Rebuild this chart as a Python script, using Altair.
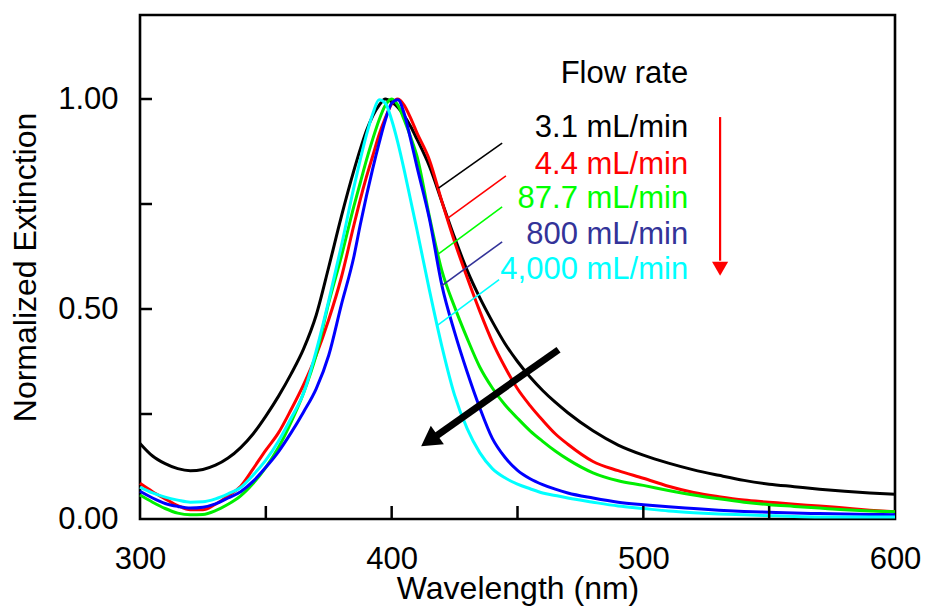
import altair as alt
import pandas as pd

# ---------------- data ----------------
wavelength = [300, 305, 310, 315, 320, 325, 330, 335, 340, 345, 350, 355, 360, 365, 370,
              375, 380, 385,
              387.5, 390, 392.5, 395, 397.5, 400, 402.5, 405, 407.5, 410,
              415, 420, 425, 430, 435, 440, 445, 450, 455, 460, 465, 470,
              480, 490, 500, 510, 520, 530, 540, 550, 560, 570, 580, 590, 600]

ext_3_1 = [0.180, 0.150, 0.132, 0.120, 0.115, 0.118, 0.128, 0.145, 0.170, 0.203, 0.245,
           0.292, 0.345, 0.405, 0.485, 0.600, 0.720, 0.830,
           0.880, 0.925, 0.960, 0.985, 1.000, 0.993, 0.980, 0.960, 0.935, 0.905,
           0.840, 0.755, 0.670, 0.592, 0.527, 0.470, 0.418, 0.375, 0.338, 0.306, 0.278, 0.253,
           0.210, 0.176, 0.152, 0.133, 0.117, 0.104, 0.092, 0.083, 0.077, 0.071, 0.066, 0.062, 0.059]

ext_4_4 = [0.085, 0.065, 0.048, 0.032, 0.022, 0.022, 0.035, 0.055, 0.078, 0.120, 0.164,
           0.205, 0.260, 0.320, 0.390, 0.475, 0.575, 0.700,
           0.760, 0.815, 0.865, 0.915, 0.955, 0.988, 1.000, 0.985, 0.955, 0.920,
           0.855, 0.755, 0.660, 0.575, 0.495, 0.422, 0.362, 0.310, 0.270, 0.235, 0.203, 0.178,
           0.137, 0.115, 0.097, 0.078, 0.063, 0.053, 0.045, 0.040, 0.035, 0.031, 0.026, 0.021, 0.017]

ext_87_7 = [0.057, 0.040, 0.025, 0.014, 0.010, 0.011, 0.020, 0.035, 0.055, 0.085, 0.123,
            0.170, 0.230, 0.300, 0.390, 0.515, 0.625, 0.745,
            0.800, 0.855, 0.905, 0.950, 0.985, 1.000, 0.985, 0.950, 0.910, 0.865,
            0.720, 0.590, 0.505, 0.430, 0.362, 0.312, 0.272, 0.240, 0.210, 0.185, 0.162, 0.142,
            0.110, 0.091, 0.080, 0.068, 0.057, 0.048, 0.040, 0.034, 0.030, 0.026, 0.022, 0.019, 0.017]

ext_800 = [0.066, 0.050, 0.037, 0.030, 0.026, 0.028, 0.036, 0.050, 0.065, 0.090, 0.123,
           0.160, 0.205, 0.255, 0.310, 0.390, 0.510, 0.625,
           0.700, 0.770, 0.835, 0.895, 0.950, 0.990, 0.998, 0.965, 0.905, 0.840,
           0.715, 0.555, 0.445, 0.350, 0.265, 0.192, 0.147, 0.116, 0.096, 0.082, 0.071, 0.062,
           0.050, 0.040, 0.034, 0.029, 0.025, 0.021, 0.018, 0.016, 0.014, 0.013, 0.012, 0.011, 0.010]

ext_4000 = [0.076, 0.062, 0.052, 0.045, 0.040, 0.041, 0.048, 0.060, 0.075, 0.105, 0.140,
            0.185, 0.240, 0.300, 0.400, 0.520, 0.650, 0.790,
            0.855, 0.915, 0.965, 0.998, 0.990, 0.950, 0.895, 0.830, 0.760, 0.690,
            0.545, 0.410, 0.295, 0.215, 0.158, 0.120, 0.098, 0.083, 0.072, 0.062, 0.056, 0.050,
            0.040, 0.031, 0.025, 0.019, 0.015, 0.012, 0.010, 0.008, 0.006, 0.005, 0.005, 0.005, 0.005]

series_labels = ["3.1 mL/min", "4.4 mL/min", "87.7 mL/min", "800 mL/min", "4,000 mL/min"]
series_values = [ext_3_1, ext_4_4, ext_87_7, ext_800, ext_4000]
line_colors = ["#000000", "#ff0000", "#00ee00", "#0000ff", "#00ffff"]
text_colors = ["#000000", "#ff0000", "#00c000", "#333399", "#00e8c0"]
leader_colors = ["#000000", "#ff0000", "#00ff00", "#333399", "#00ffff"]

# annotation positions (data units)
label_x = 517.8
label_y = [0.931, 0.844, 0.761, 0.677, 0.594]
heading = "Flow rate"
heading_y = 1.060
leader_x1 = [443.9, 445.4, 443.9, 443.9, 442.7]
leader_y1 = [0.895, 0.817, 0.743, 0.660, 0.570]
leader_x2 = [418.6, 421.8, 418.6, 419.8, 417.9]
leader_y2 = [0.788, 0.714, 0.631, 0.555, 0.460]

x_tick_values = [350, 400, 450, 500, 550]
y_tick_values = [0.25, 0.5, 0.75, 1.0]

W, H = 755, 504
FONT = "Arial, Liberation Sans, sans-serif"

xs = alt.Scale(domain=[300, 600], nice=False, zero=False)
ys = alt.Scale(domain=[0, 1.2], nice=False, zero=True)

x_axis = alt.Axis(values=[300, 400, 500, 600], ticks=False, tickSize=0, domain=False,
                  grid=False, labelPadding=25, labelFontSize=31,
                  titleFontSize=32, titleBaseline="bottom", titleY=86, labelFlush=False)
y_axis = alt.Axis(values=[0, 0.5, 1.0], format=".2f", ticks=False, tickSize=0, domain=False,
                  grid=False, labelPadding=22, titlePadding=15, labelFontSize=31,
                  titleFontSize=32)


def X(field):
    return alt.X(field, scale=xs, axis=x_axis, title="Wavelength (nm)")


def Y(field):
    return alt.Y(field, scale=ys, axis=y_axis, title="Normalized Extinction")


layers = []
for name, vals, col in zip(series_labels, series_values, line_colors):
    df = pd.DataFrame({"wavelength": wavelength, "ext": vals})
    layers.append(
        alt.Chart(df).mark_line(color=col, strokeWidth=3, interpolate="monotone")
        .encode(x=X("wavelength:Q"), y=Y("ext:Q"))
    )

# inward ticks
xt = alt.Chart(pd.DataFrame({"t": x_tick_values})).mark_rule(color="black", strokeWidth=2.5).encode(
    x=X("t:Q"), y=alt.value(H), y2=alt.value(H - 13))
yt = alt.Chart(pd.DataFrame({"t": y_tick_values})).mark_rule(color="black", strokeWidth=2.5).encode(
    y=Y("t:Q"), x=alt.value(0), x2=alt.value(12))

# leader lines
lead_df = pd.DataFrame({"x1": leader_x1, "y1": leader_y1, "x2": leader_x2, "y2": leader_y2,
                        "s": series_labels})
leaders = alt.Chart(lead_df).mark_rule(strokeWidth=1.6).encode(
    x=X("x1:Q"), y=Y("y1:Q"), x2="x2:Q", y2="y2:Q",
    color=alt.Color("s:N", scale=alt.Scale(domain=series_labels, range=leader_colors), legend=None))

# labels
lab_df = pd.DataFrame({"x": [label_x] * len(series_labels), "y": label_y, "s": series_labels})
labels = alt.Chart(lab_df).mark_text(align="right", baseline="middle", fontSize=31, font=FONT).encode(
    x=X("x:Q"), y=Y("y:Q"), text="s:N",
    color=alt.Color("s:N", scale=alt.Scale(domain=series_labels, range=text_colors), legend=None))
head = alt.Chart(pd.DataFrame({"x": [label_x], "y": [heading_y], "s": [heading]})).mark_text(
    align="right", baseline="middle", fontSize=31, font=FONT, color="black").encode(
    x=X("x:Q"), y=Y("y:Q"), text="s:N")

# red arrow (flow-rate direction)
red_x = [530.5]
red_y1 = [0.957]
red_y2 = [0.615]
red_head_y = [0.596]
red_shaft = alt.Chart(pd.DataFrame({"x": red_x, "y1": red_y1, "y2": red_y2})).mark_rule(
    color="#ff0000", strokeWidth=2.2).encode(x=X("x:Q"), y=Y("y1:Q"), y2="y2:Q")
red_head = alt.Chart(pd.DataFrame({"x": red_x, "y": red_head_y})).mark_point(
    shape="triangle-down", filled=True, color="#ff0000", size=260, opacity=1).encode(
    x=X("x:Q"), y=Y("y:Q"))

# black arrow (blue shift / narrowing)
blk_x1, blk_y1 = [466.3], [0.403]
blk_x2, blk_y2 = [416.8], [0.194]
blk_shaft = alt.Chart(pd.DataFrame({"x1": blk_x1, "y1": blk_y1, "x2": blk_x2, "y2": blk_y2})).mark_rule(
    color="black", strokeWidth=7).encode(x=X("x1:Q"), y=Y("y1:Q"), x2="x2:Q", y2="y2:Q")
blk_head = alt.Chart(pd.DataFrame({"x": [416.0], "y": [0.191]})).mark_point(
    shape="triangle", filled=True, color="black", size=520, angle=235, opacity=1).encode(
    x=X("x:Q"), y=Y("y:Q"))

chart = alt.layer(*layers, xt, yt, leaders, labels, head, red_shaft, red_head, blk_shaft, blk_head).properties(
    width=W, height=H,
    autosize=alt.AutoSizeParams(type="none"),
    padding={"left": 132, "top": 7, "right": 26, "bottom": 87}
).configure_view(stroke="black", strokeWidth=2.6).configure_axis(
    labelFont=FONT, titleFont=FONT, labelColor="black", titleColor="black",
    titleFontWeight="normal"
)

chart.save("out.html", embed_options={"renderer": "svg", "actions": False})
